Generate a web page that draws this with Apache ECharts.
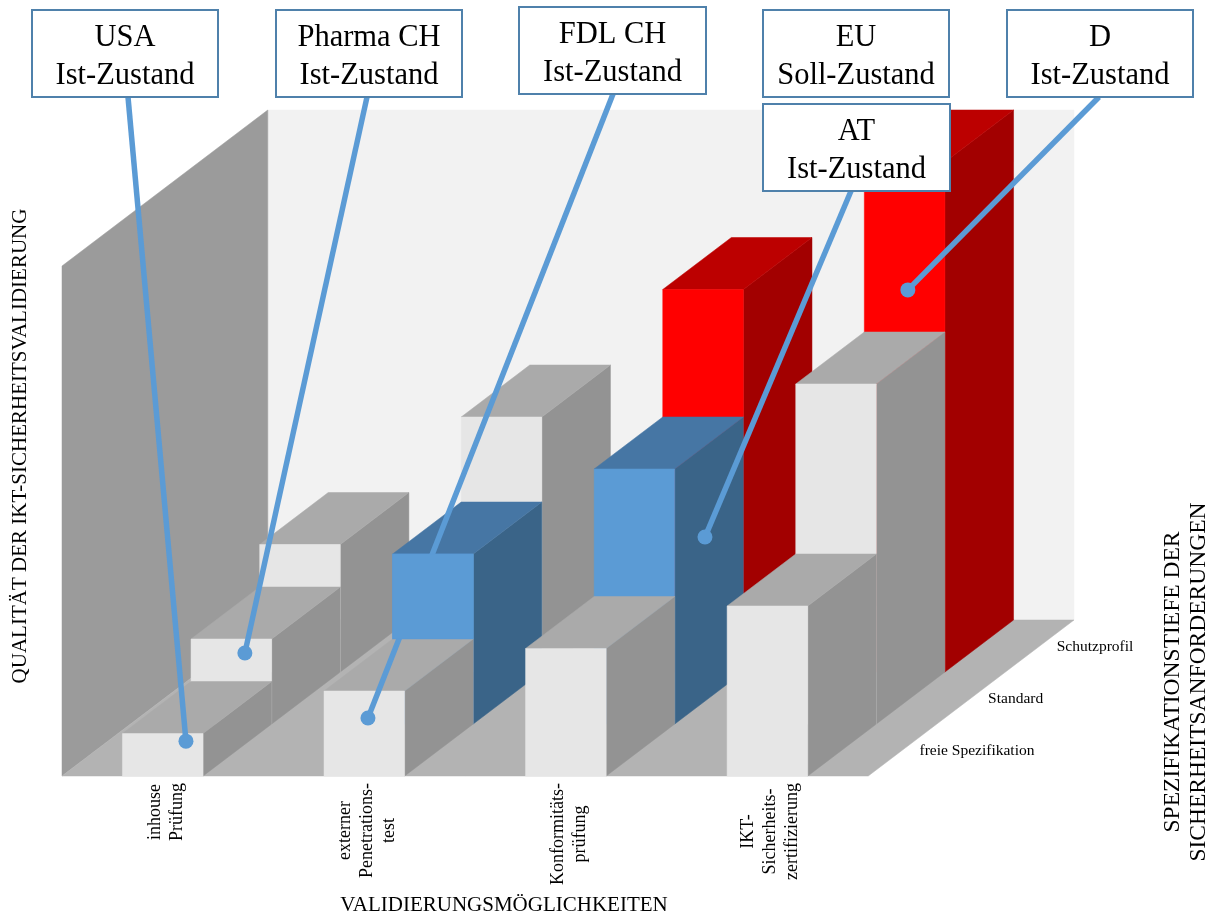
<!DOCTYPE html>
<html lang="de">
<head>
<meta charset="utf-8">
<title>IKT-Sicherheitsvalidierung</title>
<script src="https://cdn.jsdelivr.net/npm/echarts@6/dist/echarts.min.js"></script>
<style>
  html, body { margin: 0; padding: 0; background: #fff; }
  #chart { width: 1217px; height: 916px; }
</style>
</head>
<body>
<div id="chart"></div>
<script>
// Validation options along the front edge
const categories = [
  'inhouse\nPrüfung',
  'externer\nPenetrations-\ntest',
  'Konformitäts-\nprüfung',
  'IKT-\nSicherheits-\nzertifizierung'
];
// Specification depth, front row to back row
const depthLabels = ['freie Spezifikation', 'Standard', 'Schutzprofil'];

// Validation quality per option, one array per specification depth
const freieSpezifikation = [1, 2, 3, 4];
const standard = [2, 4, 6, 8];
const schutzprofil = [3, 6, 9, 12];
const rows = [freieSpezifikation, standard, schutzprofil];

// Colour group of every bar: neutral, blue (Ist-Zustand CH/AT) or red (D)
const neutralTones = ['plain', 'plain', 'plain', 'plain'];
const standardTones = ['plain', 'blue', 'blue', 'plain'];
const schutzprofilTones = ['plain', 'plain', 'red', 'red'];
const rowTones = [neutralTones, standardTones, schutzprofilTones];

// Callouts: heading, state and the spot on a bar that the leader points at
const calloutTitles = ['USA', 'Pharma CH', 'FDL CH', 'EU', 'AT', 'D'];
const calloutStates = ['Ist-Zustand', 'Ist-Zustand', 'Ist-Zustand', 'Soll-Zustand', 'Ist-Zustand', 'Ist-Zustand'];
// [position along the options, depth, level]
const calloutTargets = [
  [0.615, 0, 0.82],
  [0.567, 1, 1.67],
  [1.518, 0, 1.365],
  null,
  [2.7, 1.44, 3.86],
  [3.516, 2, 8.99]
];

// Oblique projection: one row of depth moves this far along both axes
const DEPTH_X = 0.3403;
const DEPTH_Y = 1.2235;
const MAX_LEVEL = 12;
const BAR_START = 0.3;
const BAR_END = 0.7;
const SERIF = '"Liberation Serif", "Times New Roman", serif';

const palette = {
  plain: { front: '#e6e6e6', top: '#aaaaaa', side: '#939393' },
  blue: { front: '#5b9bd5', top: '#4676a4', side: '#3a6488' },
  red: { front: '#ff0000', top: '#bc0000', side: '#a20000' }
};
const wallColors = { back: '#f2f2f2', left: '#9b9b9b', floor: '#b3b3b3' };
const LEADER_COLOR = '#5b9bd5';
const BOX_BORDER = '#4f81ab';

// Callout frames in page pixels: left, top, width, height
const boxFrames = [
  [32, 10, 186, 87],
  [276, 10, 186, 87],
  [519, 7, 187, 87],
  [763, 10, 186, 87],
  [763, 104, 187, 87],
  [1007, 10, 186, 87]
];
// Leader start on the lower frame edge, in page pixels
const leaderStarts = [128, 367, 613, null, 851, 1099];

function projector(api) {
  return (pos, depth, level) =>
    api.coord([pos + depth * DEPTH_X, level + depth * DEPTH_Y]);
}

function poly(points, fill) {
  return { type: 'polygon', shape: { points }, style: { fill, stroke: fill, lineWidth: 0.5 } };
}

function renderWalls(params, api) {
  const p = projector(api);
  const end = categories.length;
  const depth = rows.length;
  return {
    type: 'group',
    children: [
      poly([p(0, depth, 0), p(end, depth, 0), p(end, depth, MAX_LEVEL), p(0, depth, MAX_LEVEL)], wallColors.back),
      poly([p(0, 0, 0), p(0, depth, 0), p(0, depth, MAX_LEVEL), p(0, 0, MAX_LEVEL)], wallColors.left),
      poly([p(0, 0, 0), p(end, 0, 0), p(end, depth, 0), p(0, depth, 0)], wallColors.floor)
    ]
  };
}

function renderBar(row) {
  return (params, api) => {
    const p = projector(api);
    const cat = api.value(0);
    const value = api.value(1);
    const colors = palette[rowTones[row][cat]];
    const a = cat + BAR_START;
    const b = cat + BAR_END;
    return {
      type: 'group',
      children: [
        poly([p(b, row, 0), p(b, row + 1, 0), p(b, row + 1, value), p(b, row, value)], colors.side),
        poly([p(a, row, value), p(b, row, value), p(b, row + 1, value), p(a, row + 1, value)], colors.top),
        poly([p(a, row, 0), p(b, row, 0), p(b, row, value), p(a, row, value)], colors.front)
      ]
    };
  };
}

// Visible part of a front face, laid over the leader that runs behind this bar;
// the lower part stays hidden by the top of the bar in the row before it
function renderFrontFace(row) {
  return (params, api) => {
    const p = projector(api);
    const cat = api.value(0);
    const value = api.value(1);
    const floor = rows[row - 1][cat];
    const a = cat + BAR_START;
    const b = cat + BAR_END;
    return poly([p(a, row, floor), p(b, row, floor), p(b, row, value), p(a, row, value)], palette[rowTones[row][cat]].front);
  };
}

function renderLeader(params, api) {
  const i = api.value(0);
  const target = calloutTargets[i];
  const frame = boxFrames[i];
  if (!target) return null;
  const end = projector(api)(target[0], target[1], target[2]);
  return {
    type: 'group',
    children: [
      {
        type: 'line',
        shape: { x1: leaderStarts[i], y1: frame[1] + frame[3], x2: end[0], y2: end[1] },
        style: { stroke: LEADER_COLOR, lineWidth: 5.5 }
      },
      {
        type: 'circle',
        shape: { cx: end[0], cy: end[1], r: 7.5 },
        style: { fill: LEADER_COLOR }
      }
    ]
  };
}

function renderBox(params, api) {
  const i = api.value(0);
  const [x, y, w, h] = boxFrames[i];
  return {
    type: 'group',
    children: [
      {
        type: 'rect',
        shape: { x, y, width: w, height: h },
        style: { fill: '#ffffff', stroke: BOX_BORDER, lineWidth: 2 }
      },
      {
        type: 'text',
        x: x + w / 2,
        y: y + h / 2 + 3.5,
        style: {
          text: calloutTitles[i] + '\n' + calloutStates[i],
          align: 'center',
          verticalAlign: 'middle',
          font: '30.5px ' + SERIF,
          lineHeight: 38,
          fill: '#000000'
        }
      }
    ]
  };
}

const measureContext = document.createElement('canvas').getContext('2d');
const CATEGORY_FONT = '18px ' + SERIF;

function renderCategoryLabel(params, api) {
  const i = api.value(0);
  const anchor = projector(api)(i + 0.5, 0, 0);
  measureContext.font = CATEGORY_FONT;
  const longest = Math.max(...categories[i].split('\n').map(t => measureContext.measureText(t).width));
  return {
    type: 'text',
    x: anchor[0] + 3,
    y: anchor[1] + 7 + longest / 2,
    rotation: Math.PI / 2,
    style: {
      text: categories[i],
      align: 'center',
      verticalAlign: 'middle',
      font: CATEGORY_FONT,
      lineHeight: 22,
      fill: '#000000'
    }
  };
}

function renderDepthLabel(params, api) {
  const i = api.value(0);
  const anchor = projector(api)(categories.length, i + 0.5, 0);
  return {
    type: 'text',
    x: anchor[0] + 17,
    y: anchor[1] + 1,
    style: {
      text: depthLabels[i],
      align: 'left',
      verticalAlign: 'middle',
      font: '15.5px ' + SERIF,
      fill: '#000000'
    }
  };
}

const hiddenParts = {
  axisLine: { show: false },
  axisTick: { show: false },
  axisLabel: { show: false },
  splitLine: { show: false }
};

function customSeries(name, renderItem, data, z) {
  return { type: 'custom', name, renderItem, data, z, silent: true, clip: false };
}

const barSeries = [2, 1, 0].map((row, order) =>
  customSeries(depthLabels[row], renderBar(row), rows[row].map((v, c) => [c, v]), 3 + order)
);

const option = {
  animation: false,
  backgroundColor: '#ffffff',
  grid: { left: 62, top: 110, width: 1012, height: 666, outerBoundsMode: 'none' },
  xAxis: {
    type: 'value',
    min: 0,
    max: categories.length + rows.length * DEPTH_X,
    name: 'VALIDIERUNGSMÖGLICHKEITEN',
    nameLocation: 'middle',
    nameGap: 119,
    nameTextStyle: { fontFamily: SERIF, fontSize: 21, color: '#000', padding: [0, 128, 0, 0] },
    ...hiddenParts
  },
  yAxis: {
    type: 'value',
    min: 0,
    max: MAX_LEVEL + rows.length * DEPTH_Y,
    name: 'QUALITÄT DER IKT-SICHERHEITSVALIDIERUNG',
    nameLocation: 'middle',
    nameRotate: 90,
    nameGap: 31,
    nameTextStyle: { fontFamily: SERIF, fontSize: 21, color: '#000', padding: [0, 6, 0, 0] },
    ...hiddenParts
  },
  graphic: [
    {
      type: 'text',
      x: 1186,
      y: 682,
      rotation: Math.PI / 2,
      z: 20,
      style: {
        text: 'SPEZIFIKATIONSTIEFE DER\nSICHERHEITSANFORDERUNGEN',
        align: 'center',
        verticalAlign: 'middle',
        font: '23.5px ' + SERIF,
        lineHeight: 26,
        fill: '#000000'
      }
    }
  ],
  series: [
    customSeries('Wände', renderWalls, [[0, 0]], 2),
    ...barSeries,
    customSeries('Leader', renderLeader, calloutTitles.map((t, i) => [i, 0]), 7),
    customSeries('Standard vorn', renderFrontFace(1), [[1, standard[1]]], 8),
    customSeries('Callouts', renderBox, calloutTitles.map((t, i) => [i, 0]), 9),
    customSeries('Kategorien', renderCategoryLabel, categories.map((t, i) => [i, 0]), 10),
    customSeries('Tiefe', renderDepthLabel, depthLabels.map((t, i) => [i, 0]), 10)
  ]
};

const chart = echarts.init(document.getElementById('chart'), null, { renderer: 'canvas' });
chart.setOption(option);
</script>
</body>
</html>
